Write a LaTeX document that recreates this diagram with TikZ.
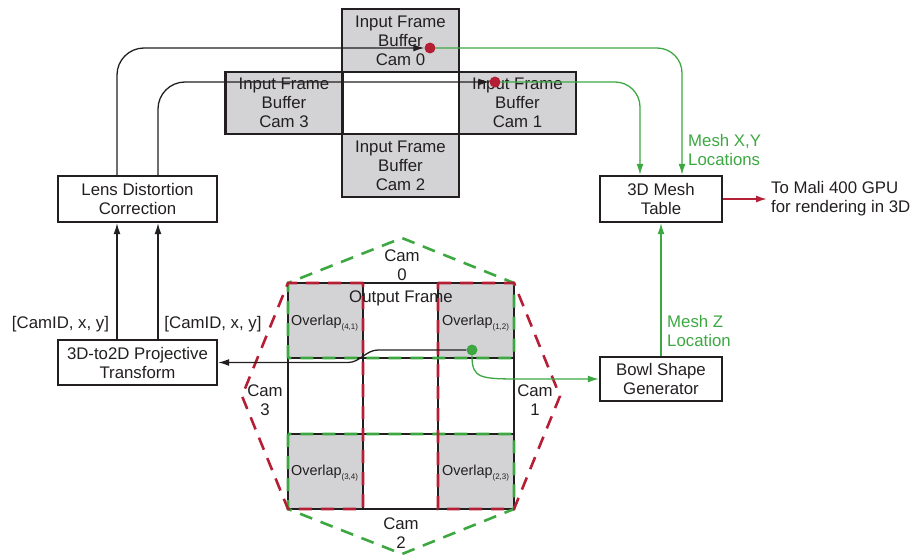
\documentclass[tikz,border=0pt]{standalone}
\usepackage{fontspec}
\setmainfont{Liberation Sans}
\usetikzlibrary{arrows.meta,calc}
\definecolor{ink}{HTML}{231F20}
\definecolor{grn}{HTML}{3DA842}
\definecolor{rd}{HTML}{B51F35}
\definecolor{boxgray}{HTML}{D3D3D5}
\newcommand\mainfs{\fontsize{16.8pt}{19pt}\selectfont}
\newcommand\ovfs{\fontsize{14.4pt}{16pt}\selectfont}
\newcommand\ovsub[1]{\raisebox{-4pt}{\fontsize{8pt}{9pt}\selectfont(#1)}}
\begin{document}
\begin{tikzpicture}[x=1pt,y=-1pt,
  every node/.style={font=\mainfs, text=ink},
  blk/.style={draw=ink, line width=2.4pt, align=center, inner sep=0pt},
  buf/.style={blk, fill=boxgray, minimum width=117pt, minimum height=62.5pt},
  arr/.style={draw=ink, line width=1.3pt, -{Latex[length=11pt,width=7pt]}},
  garr/.style={draw=grn, line width=1.3pt, -{Latex[length=11pt,width=7pt]}},
  rarr/.style={draw=rd, line width=1.6pt, -{Latex[length=11pt,width=7pt]}},
  gdash/.style={draw=grn, line width=2.6pt, dash pattern=on 13pt off 9pt},
  rdash/.style={draw=rd, line width=2.6pt, dash pattern=on 13pt off 9pt},
  dotn/.style={circle, inner sep=0pt, minimum size=11pt},
  lbl/.style={align=center, inner sep=0pt},
  ovl/.style={anchor=base west, font=\ovfs, inner sep=0pt},
]
\useasboundingbox (0,0) rectangle (915,554);

% ---------- input frame buffers ----------
\node[buf] (b0) at (400.5,40.5) {Input Frame\\Buffer\\Cam 0};
\node[buf] (b3) at (284,103) {Input Frame\\Buffer\\Cam 3};
\node[buf] (b1) at (517.5,103) {Input Frame\\Buffer\\Cam 1};
\node[buf] (b2) at (400.5,165.5) {Input Frame\\Buffer\\Cam 2};

% ---------- blocks ----------
\node[blk, minimum width=159pt, minimum height=46pt] (lens) at (137.5,199) {Lens Distortion\\Correction};
\node[blk, minimum width=159pt, minimum height=45pt] (proj) at (137.5,362.5) {3D-to2D Projective\\Transform};
\node[blk, minimum width=122pt, minimum height=46pt] (mesh) at (661,199) {3D Mesh\\Table};
\node[blk, minimum width=122pt, minimum height=44pt] (bowl) at (661,379) {Bowl Shape\\Generator};

% ---------- output frame ----------
\fill[boxgray] (288,283) rectangle (363,358);
\fill[boxgray] (438,283) rectangle (514,358);
\fill[boxgray] (288,434) rectangle (363,509);
\fill[boxgray] (438,434) rectangle (514,509);
\draw[ink, line width=1.2pt] (288,283) rectangle (514,509);
\draw[ink, line width=1.2pt] (363,283) -- (363,509);
\draw[ink, line width=1.2pt] (438,283) -- (438,509);
\draw[ink, line width=1.2pt] (288,358) -- (514,358);
\draw[ink, line width=1.2pt] (288,434) -- (514,434);

\draw[gdash] (288,358) -- (288,283) -- (402,238) -- (514,283) -- (514,358) -- cycle;
\draw[gdash] (288,434) -- (288,509) -- (402,554) -- (514,509) -- (514,434) -- cycle;
\draw[rdash] (363,283) -- (288,283) -- (242,396) -- (288,509) -- (363,509) -- cycle;
\draw[rdash] (438,283) -- (514,283) -- (560,396) -- (514,509) -- (438,509) -- cycle;

\node[lbl] (cam0) at (402,265) {Cam\\0};
\node[lbl] (outf) at (401,298) {Output Frame};
\node[lbl] (cam3) at (265,400) {Cam\\3};
\node[lbl] (cam1) at (535,400) {Cam\\1};
\node[lbl] (cam2) at (401,533) {Cam\\2};
\node[ovl] (o41) at (291,325) {Overlap\ovsub{4,1}};
\node[ovl] (o12) at (442,325) {Overlap\ovsub{1,2}};
\node[ovl] (o34) at (291,475) {Overlap\ovsub{3,4}};
\node[ovl] (o23) at (442,475) {Overlap\ovsub{2,3}};

% ---------- dots ----------
\node[dotn, fill=rd] (d0) at (430,48) {};
\node[dotn, fill=rd] (d1) at (495,82) {};
\node[dotn, fill=grn] (g) at (472,350) {};

% ---------- helper coordinates ----------
\coordinate (c1) at (117,0);
\coordinate (c2) at (158,0);
\coordinate (mx1) at ($(mesh.north)+(-21,0)$);
\coordinate (mx2) at ($(mesh.north)+(21,0)$);

% ---------- connectors ----------
\draw[arr] (proj.north -| c1) -- (lens.south -| c1);
\draw[arr] (proj.north -| c2) -- (lens.south -| c2);
\draw[arr, rounded corners=27pt] (lens.north -| c1) |- (d0);
\draw[arr, rounded corners=27pt] (lens.north -| c2) |- (d1);
\draw[garr, rounded corners=25pt] (d0) -| (mx2);
\draw[garr, rounded corners=25pt] (d1) -| (mx1);
\draw[garr] (bowl.north) -- (mesh.south);
\draw[garr] (g) .. controls (472,379) and (480,379) .. (525,379) -- (bowl.west);
\draw[arr] (g) -- (378,350) .. controls (366,350) and (360,362.5) .. (348,362.5) -- (proj.east);

\node[anchor=west, align=left, inner sep=0pt, inner xsep=4pt] (mali) at (767,199) {To Mali 400 GPU\\for rendering in 3D};
\draw[rarr] (mesh.east) -- (mali.west);

% ---------- labels ----------
\node[lbl] (lab1) at (60.5,324) {[CamID, x, y]};
\node[lbl] (lab2) at (213,324) {[CamID, x, y]};
\node[anchor=west, align=left, inner sep=0pt, text=grn] (mxy) at (688,150) {Mesh X,Y\\Locations};
\node[anchor=west, align=left, inner sep=0pt, text=grn] (mz) at (667,331) {Mesh Z\\Location};
\end{tikzpicture}
\end{document}
